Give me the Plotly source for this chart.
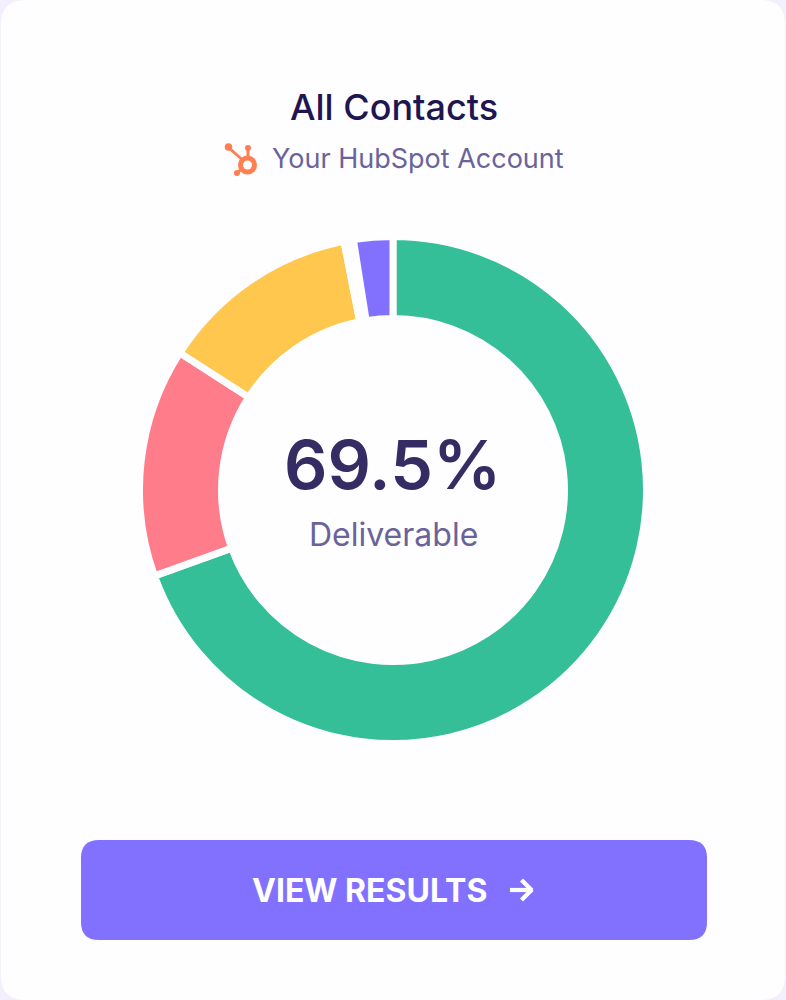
import plotly.graph_objects as go

W, H = 786, 1000
CARD = "#FEFDFF"
PAGE = "#F3EFFC"
HUB = "#FF7F50"

# Contact deliverability breakdown, percent of all contacts
segments = ["Deliverable", "Undeliverable", "Risky", "Unclassified", "Unknown"]
shares = [69.5, 14.6, 12.8, 0.6, 2.5]
segment_colors = ["#35BF99", "#FF7C8A", "#FFC74D", CARD, "#8270FF"]

title_text = "All Contacts"
source_text = "Your HubSpot Account"
headline_value = "69.5%"
headline_label = "Deliverable"
button_text = "VIEW RESULTS"


def px(x):
    return x / W


def py(y):
    return 1 - y / H


def rounded_rect(x0, y0, x1, y1, r):
    # Path in paper coordinates with quarter-circle corners
    X0, X1 = px(x0), px(x1)
    Y0, Y1 = py(y0), py(y1)
    rx, ry = r / W, r / H
    return (
        f"M {X0 + rx} {Y0} L {X1 - rx} {Y0} Q {X1} {Y0} {X1} {Y0 - ry} "
        f"L {X1} {Y1 + ry} Q {X1} {Y1} {X1 - rx} {Y1} "
        f"L {X0 + rx} {Y1} Q {X0} {Y1} {X0} {Y1 + ry} "
        f"L {X0} {Y0 - ry} Q {X0} {Y0} {X0 + rx} {Y0} Z"
    )


def circle(cx, cy, r, fill, layer="above"):
    return dict(type="circle", xref="paper", yref="paper", layer=layer,
                x0=px(cx - r), x1=px(cx + r), y0=py(cy + r), y1=py(cy - r),
                fillcolor=fill, line=dict(width=0))


def stroke(x0, y0, x1, y1, width, color):
    return dict(type="line", xref="paper", yref="paper", layer="above",
                x0=px(x0), y0=py(y0), x1=px(x1), y1=py(y1),
                line=dict(color=color, width=width))


# Donut stroke eats half its width on each edge, so the domain is padded by that much
GAP = 7
cx, cy, outer = 393, 490, 250 + GAP / 2
inner = 175 - GAP / 2

fig = go.Figure(go.Pie(
    labels=segments,
    values=shares,
    sort=False,
    direction="clockwise",
    rotation=0,
    hole=inner / outer,
    textinfo="none",
    hoverinfo="label+percent",
    marker=dict(colors=segment_colors, line=dict(color=CARD, width=GAP)),
    domain=dict(x=[px(cx - outer), px(cx + outer)], y=[py(cy + outer), py(cy - outer)]),
    showlegend=False,
))

shapes = [
    # Rounded card sitting on the page background
    dict(type="path", xref="paper", yref="paper", layer="below",
         path=rounded_rect(1, 0, W - 1, H, 24), fillcolor=CARD, line=dict(width=0)),
    # Call-to-action button
    dict(type="path", xref="paper", yref="paper", layer="above",
         path=rounded_rect(81, 840, 707, 940, 18), fillcolor="#8270FF", line=dict(width=0)),
    # Button arrow
    stroke(510, 890, 531, 890, 4.2, "white"),
    stroke(521.5, 880, 532, 890.5, 4.2, "white"),
    stroke(521.5, 900, 532, 889.5, 4.2, "white"),
    # HubSpot sprocket
    stroke(228, 147, 247, 164, 3, HUB),
    stroke(248, 148, 248, 160, 3, HUB),
    stroke(237, 173, 245, 166, 2.5, HUB),
    circle(247.5, 165, 9.5, HUB),
    circle(247.5, 165, 4.5, CARD),
    circle(228.5, 147, 3.8, HUB),
    circle(248, 148, 3, HUB),
    circle(237, 173, 3, HUB),
]


def label(text, x, y, size, color, weight=400):
    return dict(text=text, xref="paper", yref="paper", x=px(x), y=py(y),
                xanchor="center", yanchor="middle", showarrow=False,
                font=dict(family="Inter", size=size, color=color, weight=weight))


annotations = [
    label(title_text, 393.5, 107, 36, "#1E1650", 500),
    label(source_text, 417.5, 158.5, 27, "#6A6399"),
    label(headline_value, 392.5, 464, 68, "#352C63", 600),
    label(headline_label, 393, 534.5, 32, "#6A6399"),
    label(button_text, 369.5, 890, 32, "#FFFFFF", 650),
]

fig.update_layout(
    width=W, height=H,
    autosize=False,
    margin=dict(l=0, r=0, t=0, b=0),
    paper_bgcolor=PAGE,
    plot_bgcolor=PAGE,
    shapes=shapes,
    annotations=annotations,
)

fig.write_html("out.html", config=dict(displayModeBar=False))
